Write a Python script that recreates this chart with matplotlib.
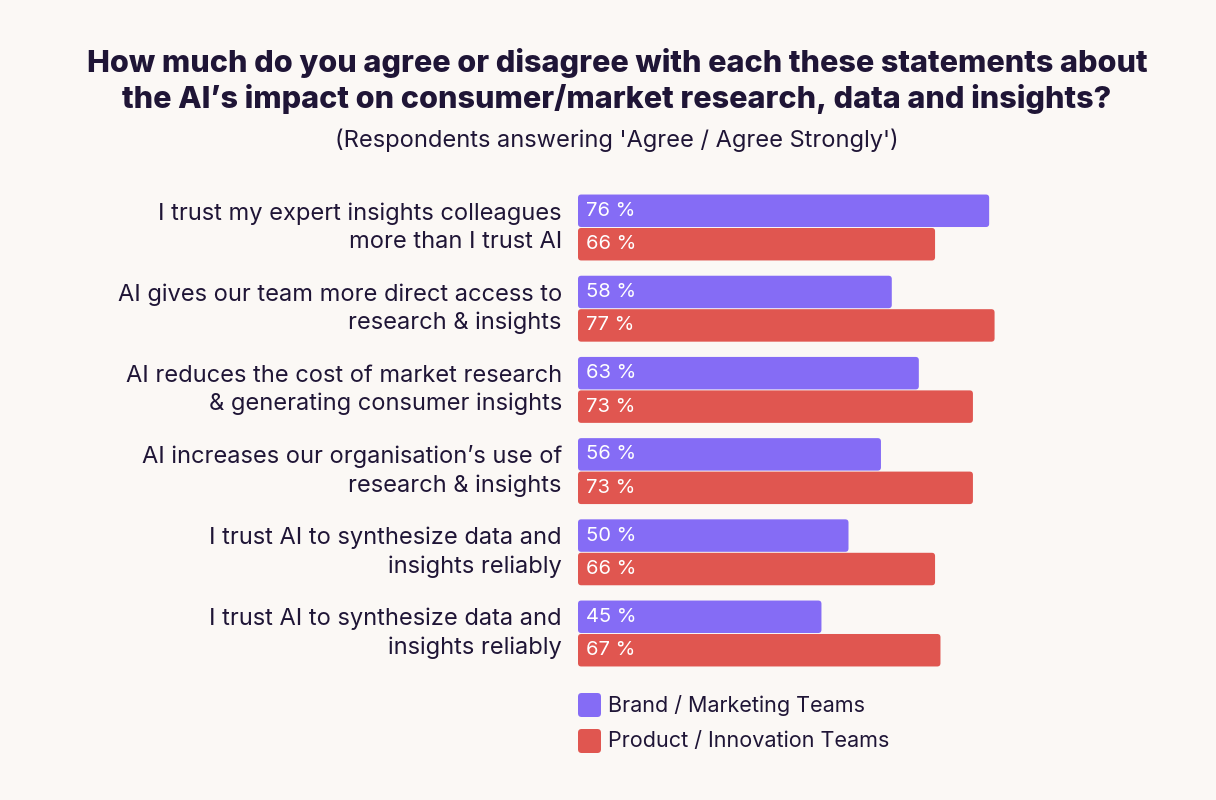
import matplotlib.pyplot as plt
from matplotlib.patches import FancyBboxPatch
import numpy as np

plt.rcParams['font.family'] = ['Inter', 'DejaVu Sans']

statements = [
    "I trust my expert insights colleagues\nmore than I trust AI",
    "AI gives our team more direct access to\nresearch & insights",
    "AI reduces the cost of market research\n& generating consumer insights",
    "AI increases our organisation\u2019s use of\nresearch & insights",
    "I trust AI to synthesize data and\ninsights reliably",
    "I trust AI to synthesize data and\ninsights reliably",
]
brand = [76, 58, 63, 56, 50, 45]
product = [66, 77, 73, 73, 66, 67]
series_names = ["Brand / Marketing Teams", "Product / Innovation Teams"]

bg = '#fbf8f5'
ink = '#1f1536'
purple = '#856cf5'
red = '#e05650'

W, H = 1216, 800
fig = plt.figure(figsize=(W / 100, H / 100), dpi=100, facecolor=bg)

# axes placed in pixel terms: bars start at x=578, groups from y=194 to y=667
ax = fig.add_axes([578 / W, (H - 667) / H, 541 / W, 473 / H])
ax.set_facecolor(bg)
ax.set_xlim(0, 100)
ax.set_ylim(5.4125, -0.4125)
ax.axis('off')

bh = 0.40
off = 0.206
# rounding: y units per px over x units per px
aspect = (1 / 81.2) / (100 / 541)
for i, (b, p) in enumerate(zip(brand, product)):
    for val, yc, col in [(b, i - off, purple), (p, i + off, red)]:
        ax.add_patch(FancyBboxPatch((0, yc - bh / 2), val, bh,
                                    boxstyle='round,pad=0,rounding_size=0.6',
                                    mutation_aspect=aspect,
                                    facecolor=col, edgecolor='none'))
        ax.text(1.5, yc, f"{val} %", color='white', fontsize=14.5,
                va='center', ha='left')
    ax.text(-3, i, statements[i], ha='right', va='center', fontsize=17,
            color=ink, linespacing=1.35, clip_on=False)

fig.text(617 / W, 1 - 81 / H,
         "How much do you agree or disagree with each these statements about\n"
         "the AI\u2019s impact on consumer/market research, data and insights?",
         ha='center', va='center', fontsize=22, fontweight='heavy', color=ink,
         linespacing=1.22)
fig.text(617 / W, 1 - 140 / H, "(Respondents answering 'Agree / Agree Strongly')",
         ha='center', va='center', fontsize=17, color=ink)

# legend built from rounded squares like the bars
leg_y = [705, 741]
for name, col, yp in zip(series_names, [purple, red], leg_y):
    fig.patches.append(FancyBboxPatch((578 / W, (H - yp - 12) / H), 23 / W, 24 / H,
                                      boxstyle='round,pad=0,rounding_size=0.003',
                                      mutation_aspect=W / H,
                                      transform=fig.transFigure,
                                      facecolor=col, edgecolor='none'))
    fig.text(608 / W, 1 - yp / H, name, ha='left', va='center',
             fontsize=15.5, color=ink)

fig.savefig('out.png', dpi=100, facecolor=bg)
